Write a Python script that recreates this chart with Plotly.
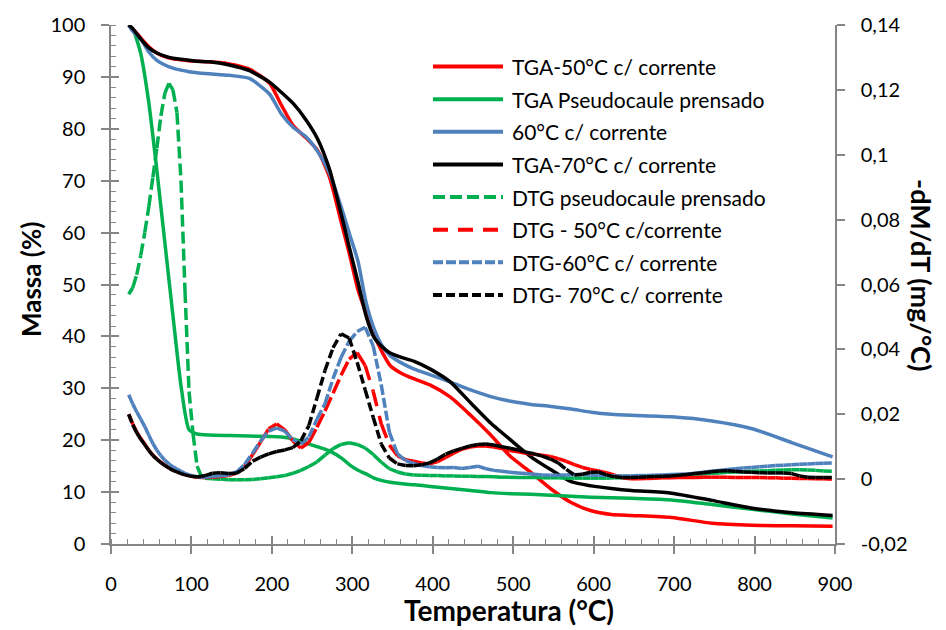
import plotly.graph_objects as go

# ---------------- data ----------------
# TGA curves (mass %, left axis)
temp_tga = [22, 27, 37, 47, 57, 67, 77, 87, 97, 107, 122, 147, 172, 197, 212, 227, 242,
            257, 272, 287, 297, 307, 317, 327, 337, 347, 362, 377, 397, 422, 447, 472,
            497, 522, 547, 572, 597, 622, 647, 697, 747, 797, 847, 897]

tga_50 = [100, 99.3, 97.5, 95.8, 94.6, 93.9, 93.5, 93.3, 93.1, 93.0, 92.9, 92.5, 91.5, 88.8,
          84.5, 80.5, 78.3, 75.8, 70.5, 61.5, 55.5, 49.0, 44.5, 40.3, 37.0, 34.4, 32.8, 31.8,
          30.6, 28.3, 24.8, 21.0, 16.8, 13.8, 10.6, 8.0, 6.4, 5.7, 5.5, 5.1, 4.0, 3.6, 3.5, 3.4]

tga_pseudocaule = [100, 99.3, 94.5, 85.0, 72.0, 58.0, 44.0, 30.5, 22.0, 21.2, 21.0, 20.9, 20.8,
                   20.7, 20.6, 20.2, 19.5, 18.7, 17.9, 16.5, 15.2, 14.2, 13.5, 12.7, 12.2, 11.9,
                   11.6, 11.4, 11.1, 10.7, 10.3, 9.9, 9.7, 9.6, 9.4, 9.2, 9.0, 8.9, 8.8, 8.5,
                   7.6, 6.7, 5.8, 5.0]

tga_60 = [100, 98.8, 97.3, 94.8, 93.2, 92.3, 91.7, 91.3, 91.0, 90.8, 90.6, 90.3, 89.7, 86.7,
          82.8, 80.2, 78.5, 75.6, 71.3, 64.5, 59.5, 54.5, 46.6, 41.5, 38.2, 36.3, 34.8, 33.7,
          32.6, 31.2, 29.7, 28.4, 27.5, 26.9, 26.5, 26.0, 25.4, 25.0, 24.8, 24.5, 23.7, 22.2,
          19.5, 16.8]

tga_70 = [100, 99.3, 97.3, 95.6, 94.6, 94.0, 93.6, 93.4, 93.2, 93.0, 92.9, 92.3, 91.2, 89.0,
          87.0, 84.8, 81.8, 78.0, 72.0, 63.0, 56.7, 50.5, 44.0, 39.8, 38.0, 36.8, 35.9, 35.2,
          33.7, 31.2, 27.2, 23.3, 20.0, 16.8, 14.3, 12.0, 11.2, 10.7, 10.3, 9.8, 8.4, 6.9,
          6.0, 5.5]

# DTG curves (mg/°C, right axis)
temp_dtg = [22, 27, 32, 37, 42, 47, 52, 57, 62, 67, 72, 77, 82, 87, 92, 97, 102, 107, 112, 117,
            126, 136, 146, 156, 166, 176, 186, 196, 206, 216, 226, 236, 246, 256, 266, 276,
            286, 296, 306, 316, 326, 336, 346, 356, 366, 376, 386, 396, 406, 416, 426, 436,
            446, 456, 466, 476, 486, 496, 506, 516, 526, 536, 546, 556, 566, 576, 586, 596,
            606, 616, 626, 636, 646, 656, 666, 676, 686, 696, 706, 716, 726, 736, 746, 756,
            766, 776, 786, 796, 806, 816, 826, 836, 846, 856, 866, 876, 886, 896]

dtg_pseudocaule = [0.057, 0.059, 0.063, 0.069, 0.076, 0.084, 0.093, 0.102, 0.112, 0.119, 0.122,
                   0.120, 0.113, 0.092, 0.058, 0.027, 0.014, 0.004, 0.001, 0.0003,
                   0.0001, 0.0, -0.0002, -0.0002, -0.0002, -0.0001, 0.0001, 0.0004, 0.0007,
                   0.0011, 0.0018, 0.0027, 0.0039, 0.0053, 0.0074, 0.0094, 0.0107, 0.0112,
                   0.0107, 0.0096, 0.0076, 0.0052, 0.0032, 0.0022, 0.0016, 0.0013, 0.0012,
                   0.0011, 0.0011, 0.0010, 0.0010, 0.0009, 0.0009, 0.0008, 0.0008, 0.0007,
                   0.0006, 0.0006, 0.0005, 0.0005, 0.0005, 0.0004, 0.0004, 0.0004, 0.0003,
                   0.0003, 0.0003, 0.0003, 0.0003, 0.0003, 0.0004, 0.0004, 0.0005, 0.0006,
                   0.0007, 0.0008, 0.0009, 0.0010, 0.0012, 0.0013, 0.0015, 0.0016, 0.0018,
                   0.0019, 0.0021, 0.0022, 0.0023, 0.0024, 0.0025, 0.0026, 0.0027, 0.0028,
                   0.0029, 0.0029, 0.0028, 0.0027, 0.0025, 0.0024]

dtg_50 = [0.020, 0.017, 0.0145, 0.0125, 0.0108, 0.0089, 0.0074, 0.0062, 0.0052, 0.0043, 0.0035,
          0.0028, 0.0023, 0.0018, 0.0014, 0.0011, 0.0008, 0.0006, 0.0005, 0.0005,
          0.0006, 0.0008, 0.0011, 0.0019, 0.0040, 0.0075, 0.0115, 0.0155, 0.0170, 0.0152,
          0.0118, 0.0096, 0.0113, 0.0160, 0.0210, 0.0265, 0.0320, 0.0370, 0.0390, 0.0350,
          0.0270, 0.0170, 0.0105, 0.0072, 0.0060, 0.0055, 0.0050, 0.0047, 0.0054, 0.0067,
          0.0080, 0.0092, 0.0099, 0.0102, 0.0102, 0.0099, 0.0094, 0.0088, 0.0084, 0.0080,
          0.0077, 0.0074, 0.0070, 0.0063, 0.0055, 0.0045, 0.0036, 0.0030, 0.0025, 0.0020,
          0.0012, 0.0004, 0.0001, 0.0001, 0.0002, 0.0003, 0.0004, 0.0004, 0.0005, 0.0005,
          0.0005, 0.0006, 0.0006, 0.0006, 0.0006, 0.0005, 0.0005, 0.0005, 0.0005, 0.0004,
          0.0004, 0.0003, 0.0003, 0.0002, 0.0002, 0.0001, 0.0001, 0.0]

dtg_60 = [0.026, 0.0232, 0.0207, 0.0185, 0.0162, 0.0135, 0.0110, 0.0089, 0.0072, 0.0058, 0.0047,
          0.0038, 0.0031, 0.0024, 0.0018, 0.0013, 0.0010, 0.0007, 0.0006, 0.0006,
          0.0008, 0.0010, 0.0013, 0.0022, 0.0045, 0.0080, 0.0118, 0.0148, 0.0158, 0.0148,
          0.0122, 0.0108, 0.0130, 0.0185, 0.0232, 0.0310, 0.0375, 0.0425, 0.0455, 0.0468,
          0.0410, 0.0290, 0.0145, 0.0078, 0.0058, 0.0048, 0.0042, 0.0038, 0.0036, 0.0035,
          0.0036, 0.0033, 0.0036, 0.0040, 0.0032, 0.0027, 0.0024, 0.0021, 0.0019, 0.0017,
          0.0015, 0.0013, 0.0012, 0.0012, 0.0013, 0.0014, 0.0014, 0.0013, 0.0012, 0.0011,
          0.0010, 0.0010, 0.0010, 0.0011, 0.0011, 0.0012, 0.0013, 0.0014, 0.0015, 0.0016,
          0.0018, 0.0021, 0.0024, 0.0027, 0.0030, 0.0032, 0.0034, 0.0036, 0.0038, 0.0040,
          0.0042, 0.0043, 0.0044, 0.0046, 0.0047, 0.0048, 0.0049, 0.0050]

dtg_70 = [0.020, 0.0168, 0.0143, 0.0123, 0.0106, 0.0088, 0.0073, 0.0061, 0.0051, 0.0042, 0.0034,
          0.0027, 0.0022, 0.0017, 0.0013, 0.0010, 0.0008, 0.0007, 0.0008, 0.0011,
          0.0018, 0.0020, 0.0017, 0.0018, 0.0033, 0.0055, 0.0068, 0.0078, 0.0085, 0.0090,
          0.0097, 0.0118, 0.0165, 0.0250, 0.0335, 0.0405, 0.0448, 0.0435, 0.0360, 0.0275,
          0.0190, 0.0108, 0.0065, 0.0047, 0.0042, 0.0041, 0.0044, 0.0050, 0.0062, 0.0077,
          0.0087, 0.0095, 0.0102, 0.0107, 0.0108, 0.0105, 0.0100, 0.0095, 0.0090, 0.0083,
          0.0078, 0.0071, 0.0062, 0.0050, 0.0030, 0.0013, 0.0015, 0.0021, 0.0022, 0.0013,
          0.0007, 0.0005, 0.0005, 0.0006, 0.0007, 0.0008, 0.0009, 0.0010, 0.0012, 0.0014,
          0.0017, 0.0020, 0.0023, 0.0025, 0.0026, 0.0024, 0.0022, 0.0021, 0.0020, 0.0019,
          0.0019, 0.0019, 0.0017, 0.0010, 0.0006, 0.0005, 0.0005, 0.0005]

# right-axis tick labels (decimal comma)
dtg_tickvals = [-0.02, 0.0, 0.02, 0.04, 0.06, 0.08, 0.10, 0.12, 0.14]
dtg_ticktext = ["-0,02", "0", "0,02", "0,04", "0,06", "0,08", "0,1", "0,12", "0,14"]

# ---------------- styling ----------------
RED, GREEN, BLUE, BLACK = "#FF0000", "#00B050", "#4F81BD", "#000000"
AXIS_GRAY = "#868686"
FONT = "Lato"

W, H = 946, 630
PLOT_L, PLOT_R, PLOT_T, PLOT_B = 111, 835, 19, 544


def px_x(px):
    return (px - PLOT_L) / (PLOT_R - PLOT_L)


def px_y(py):
    return (PLOT_B - py) / (PLOT_B - PLOT_T)


def split_segments(t, v):
    """Break a curve into independent two-point pieces so the dash pattern
    restarts on every piece (short, flat pieces render as solid)."""
    xs, ys = [], []
    for i in range(len(t) - 1):
        xs += [t[i], t[i + 1], None]
        ys += [v[i], v[i + 1], None]
    return xs, ys


tga_series = [
    ("TGA-50°C c/ corrente", tga_50, RED),
    ("TGA Pseudocaule prensado", tga_pseudocaule, GREEN),
    ("60°C c/ corrente", tga_60, BLUE),
    ("TGA-70°C c/ corrente", tga_70, BLACK),
]
dtg_series = [
    ("DTG pseudocaule prensado", dtg_pseudocaule, GREEN, "12px,5px"),
    ("DTG - 50°C c/corrente", dtg_50, RED, "15px,10px"),
    ("DTG-60°C c/ corrente", dtg_60, BLUE, "10px,3px"),
    ("DTG- 70°C c/ corrente", dtg_70, BLACK, "9px,4px"),
]

fig = go.Figure()

# draw order: DTG underneath, TGA on top
for name, vals, color, dash in dtg_series:
    xs, ys = split_segments(temp_dtg, vals)
    fig.add_trace(go.Scatter(x=xs, y=ys, name=name, mode="lines", yaxis="y2",
                             connectgaps=False, showlegend=False,
                             line=dict(color=color, width=3.5, dash=dash)))

for name, vals, color in tga_series:
    fig.add_trace(go.Scatter(x=temp_tga, y=vals, name=name, mode="lines",
                             showlegend=False,
                             line=dict(color=color, width=3.5, shape="spline", smoothing=0.6)))

# helper axes carrying the inward half of the major ticks
fig.add_trace(go.Scatter(x=[None], y=[None], xaxis="x2", yaxis="y3", showlegend=False,
                         hoverinfo="skip"))

tick_font = dict(family=FONT, size=20, color="#000000")

fig.update_layout(
    width=W, height=H,
    margin=dict(l=PLOT_L, r=W - PLOT_R, t=PLOT_T, b=H - PLOT_B),
    paper_bgcolor="white", plot_bgcolor="white",
    showlegend=False,
    xaxis=dict(range=[0, 900], dtick=100, tick0=0, showgrid=False, zeroline=False,
               showline=True, linecolor=AXIS_GRAY, linewidth=1.5,
               ticks="outside", ticklen=8, tickwidth=1.5, tickcolor=AXIS_GRAY,
               minor=dict(dtick=20, ticks="inside", ticklen=5, tickwidth=1.2,
                          tickcolor=AXIS_GRAY, showgrid=False),
               tickfont=tick_font, ticklabelstandoff=13),
    xaxis2=dict(range=[0, 900], dtick=100, tick0=0, overlaying="x", anchor="y3",
                showgrid=False, zeroline=False, showline=False, showticklabels=False,
                ticks="inside", ticklen=8, tickwidth=1.5, tickcolor=AXIS_GRAY),
    yaxis=dict(range=[0, 100], dtick=10, tick0=0, showgrid=False, zeroline=False,
               showline=True, linecolor=AXIS_GRAY, linewidth=1.5,
               ticks="outside", ticklen=8, tickwidth=1.5, tickcolor=AXIS_GRAY,
               minor=dict(dtick=2, ticks="inside", ticklen=5, tickwidth=1.2,
                          tickcolor=AXIS_GRAY, showgrid=False),
               tickfont=tick_font, ticklabelstandoff=12),
    yaxis3=dict(range=[0, 100], dtick=10, tick0=0, overlaying="y", side="left",
                anchor="x2", showgrid=False, zeroline=False, showline=False,
                showticklabels=False, ticks="inside", ticklen=8, tickwidth=1.5,
                tickcolor=AXIS_GRAY),
    yaxis2=dict(range=[-0.02, 0.14], overlaying="y", side="right", showgrid=False,
                zeroline=False, showline=True, linecolor=AXIS_GRAY, linewidth=1.5,
                tickmode="array", tickvals=dtg_tickvals, ticktext=dtg_ticktext,
                ticks="outside", ticklen=8, tickwidth=1.5, tickcolor=AXIS_GRAY,
                tickfont=tick_font, ticklabelstandoff=12),
)

# axis titles
annotations = [
    dict(text="<b>Temperatura (°C)</b>", x=px_x(509), y=px_y(611), xref="paper", yref="paper",
         showarrow=False, font=dict(family=FONT, size=28, color="#000000"),
         xanchor="center", yanchor="middle"),
    dict(text="<b>Massa (%)</b>", x=px_x(31), y=px_y(277), xref="paper", yref="paper",
         showarrow=False, textangle=-90, font=dict(family=FONT, size=26, color="#000000"),
         xanchor="center", yanchor="middle"),
    dict(text="<b>-dM/dT (mg/°C)</b>", x=px_x(922), y=px_y(272), xref="paper", yref="paper",
         showarrow=False, textangle=90, font=dict(family=FONT, size=27, color="#000000"),
         xanchor="center", yanchor="middle"),
]

# legend box: line samples and labels
shapes = []
legend_rows = [(n, c, "solid") for n, _, c in tga_series] + \
              [(n, c, d) for n, _, c, d in dtg_series]
for i, (name, color, dash) in enumerate(legend_rows):
    row_y = 61 + 33 * i
    shapes.append(dict(type="line", xref="paper", yref="paper",
                       x0=px_x(433), x1=px_x(503), y0=px_y(row_y), y1=px_y(row_y),
                       line=dict(color=color, width=4, dash=dash)))
    annotations.append(dict(text=name, x=px_x(510), y=px_y(row_y), xref="paper", yref="paper",
                            showarrow=False, xanchor="left", yanchor="middle",
                            font=dict(family=FONT, size=21, color="#000000")))

fig.update_layout(annotations=annotations, shapes=shapes)

fig.write_html("out.html")
